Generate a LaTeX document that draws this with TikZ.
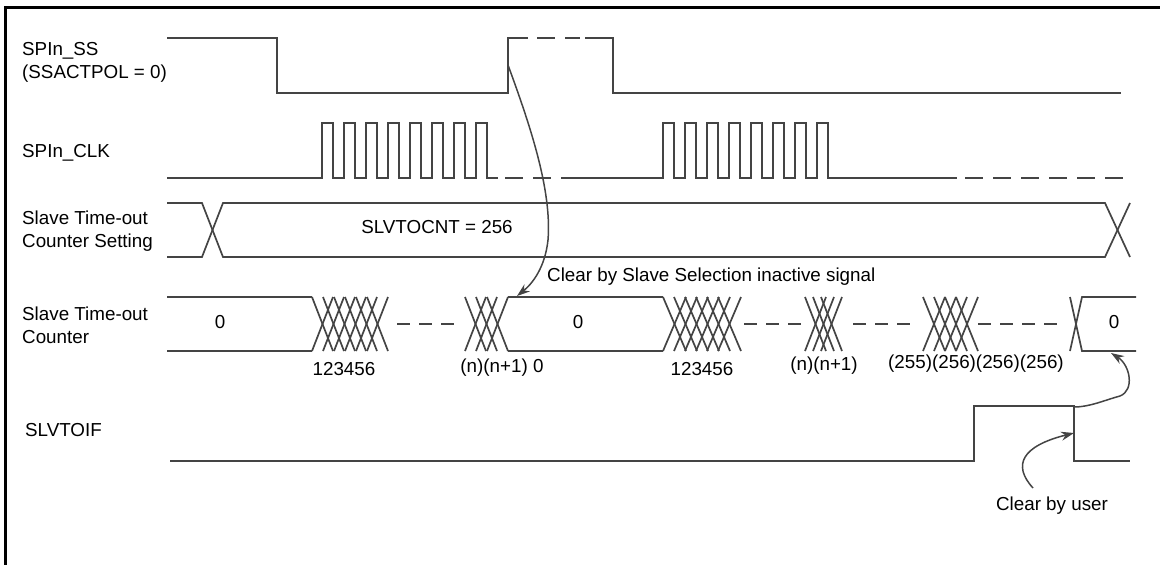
\documentclass[tikz,border=0pt]{standalone}
\usepackage{fontspec}
\setmainfont{Liberation Sans}
\usepackage{tikz}
\usetikzlibrary{positioning,arrows.meta,calc}
\usepackage{xcolor}
\definecolor{WaveGray}{RGB}{68,68,68}

% bus transitions: start x, count, pitch, width
\newcommand{\busxing}[4]{%
  \foreach \k in {1,...,#2}{
    \draw[wave] ({#1+(\k-1)*#3},297) -- ({#1+(\k-1)*#3+#4},351);
    \draw[wave] ({#1+(\k-1)*#3},351) -- ({#1+(\k-1)*#3+#4},297);
  }}

\begin{document}
\begin{tikzpicture}[x=1pt, y=-1pt,
    wave/.style={draw=WaveGray, line width=1.7pt},
    gapline/.style={wave, dash pattern=on 13pt off 9pt},
    longgap/.style={wave, dash pattern=on 18pt off 10pt},
    siglbl/.style={anchor=west, align=left, inner sep=0pt,
                   font=\fontsize{18.8}{23}\selectfont},
    vallbl/.style={inner sep=0pt, font=\fontsize{18.8}{23}\selectfont},
    note/.style={draw=WaveGray, line width=1.5pt, -{Stealth[length=13pt,width=9pt]}},
]
    \useasboundingbox (0,0) rectangle (1160,565);
    \draw[line width=3pt] (5,565) -- (5,7) -- (1160,7);

    % signal names
    \node[siglbl] (sslbl) at (22,62) {SPIn\_SS\\(SSACTPOL = 0)};
    \node[siglbl] (clklbl) at (22,153) {SPIn\_CLK};
    \node[siglbl] (setlbl) at (22,231) {Slave Time-out\\Counter Setting};
    \node[siglbl] (cntlbl) at (22,325) {Slave Time-out\\Counter};
    \node[siglbl] (iflbl) at (25,430) {SLVTOIF};

    % SPIn_SS
    \draw[wave] (167,38) -- (277,38) -- (277,93) -- (508,93) -- (508,38) -- (528,38);
    \draw[longgap] (537,38) -- (580,38);
    \draw[wave] (585,38) -- (613,38) -- (613,93) -- (1121,93);

    % SPIn_CLK
    \draw[wave] (167,178) -- (322,178)
        foreach \p in {0,...,7}{ -- ({322+22*\p},123) -- ({333+22*\p},123) -- ({333+22*\p},178) -- ({344+22*\p},178) };
    \draw[longgap] (505,178) -- (577,178);
    \draw[wave] (577,178) -- (663,178)
        foreach \p in {0,...,7}{ -- ({663+22*\p},123) -- ({674+22*\p},123) -- ({674+22*\p},178) -- ({685+22*\p},178) }
        -- (957,178);
    \draw[longgap] (965,178) -- (1125,178);

    % counter setting
    \draw[wave] (167,203) -- (202,203) -- (223,257) -- (1105,257) -- (1130,203);
    \draw[wave] (167,257) -- (202,257) -- (223,203) -- (1105,203) -- (1130,257);
    \node[vallbl] (setval) at (437,227) {SLVTOCNT = 256};

    % counter
    \draw[wave] (167,297) -- (312,297);
    \draw[wave] (167,351) -- (312,351);
    \busxing{312}{6}{11}{21}
    \draw[gapline] (397,324) -- (454,324);
    \busxing{465}{3}{11}{21}
    \draw[wave] (508,297) -- (663,297);
    \draw[wave] (508,351) -- (663,351);
    \busxing{663}{6}{11}{23}
    \draw[gapline] (744,324) -- (801,324);
    \busxing{805}{3}{8}{21}
    \draw[gapline] (853,324) -- (910,324);
    \busxing{923}{4}{11}{22}
    \draw[gapline] (978,324) -- (1057,324);
    \draw[wave] (1070,297) -- (1082,351) -- (1136,351);
    \draw[wave] (1070,351) -- (1082,297) -- (1136,297);

    \node[vallbl] (zeroA) at (220,322) {0};
    \node[vallbl] (zeroB) at (578,322) {0};
    \node[vallbl] (zeroC) at (1114,322) {0};
    \node[vallbl] (seqA) at (344,369) {123456};
    \node[vallbl] (seqB) at (502,368) {(n)(n+1) 0};
    \node[vallbl] (seqC) at (702,369) {123456};
    \node[vallbl] (seqD) at (824,366) {(n)(n+1)};
    \node[vallbl] (seqE) at (976,364) {(255)(256)(256)(256)};

    % SLVTOIF
    \draw[wave] (170,461) -- (974,461) -- (974,406) -- (1074,406) -- (1074,461) -- (1130,461);

    % notes
    \coordinate (ssedge) at (508,65);
    \coordinate (cntclr) at (517,296);
    \draw[note] (ssedge) .. controls (530,125) and (552,190) .. (548,240)
        .. controls (545,268) and (532,284) .. (cntclr);
    \node[vallbl, anchor=west] (clrss) at (547,277) {Clear by Slave Selection inactive signal};

    \node[vallbl] (clruser) at (1052,506) {Clear by user};
    \coordinate (usertail) at (1033,488);
    \coordinate (iffall) at (1074,433);
    \draw[note] (usertail) .. controls (1012,465) and (1022,446) .. (iffall);

    \coordinate (iftop) at (1074,407);
    \coordinate (cntzero) at (1111,353);
    \draw[note] (iftop) .. controls (1090,407) and (1105,400) .. (1120,396)
        .. controls (1135,390) and (1130,365) .. (cntzero);
\end{tikzpicture}
\end{document}
